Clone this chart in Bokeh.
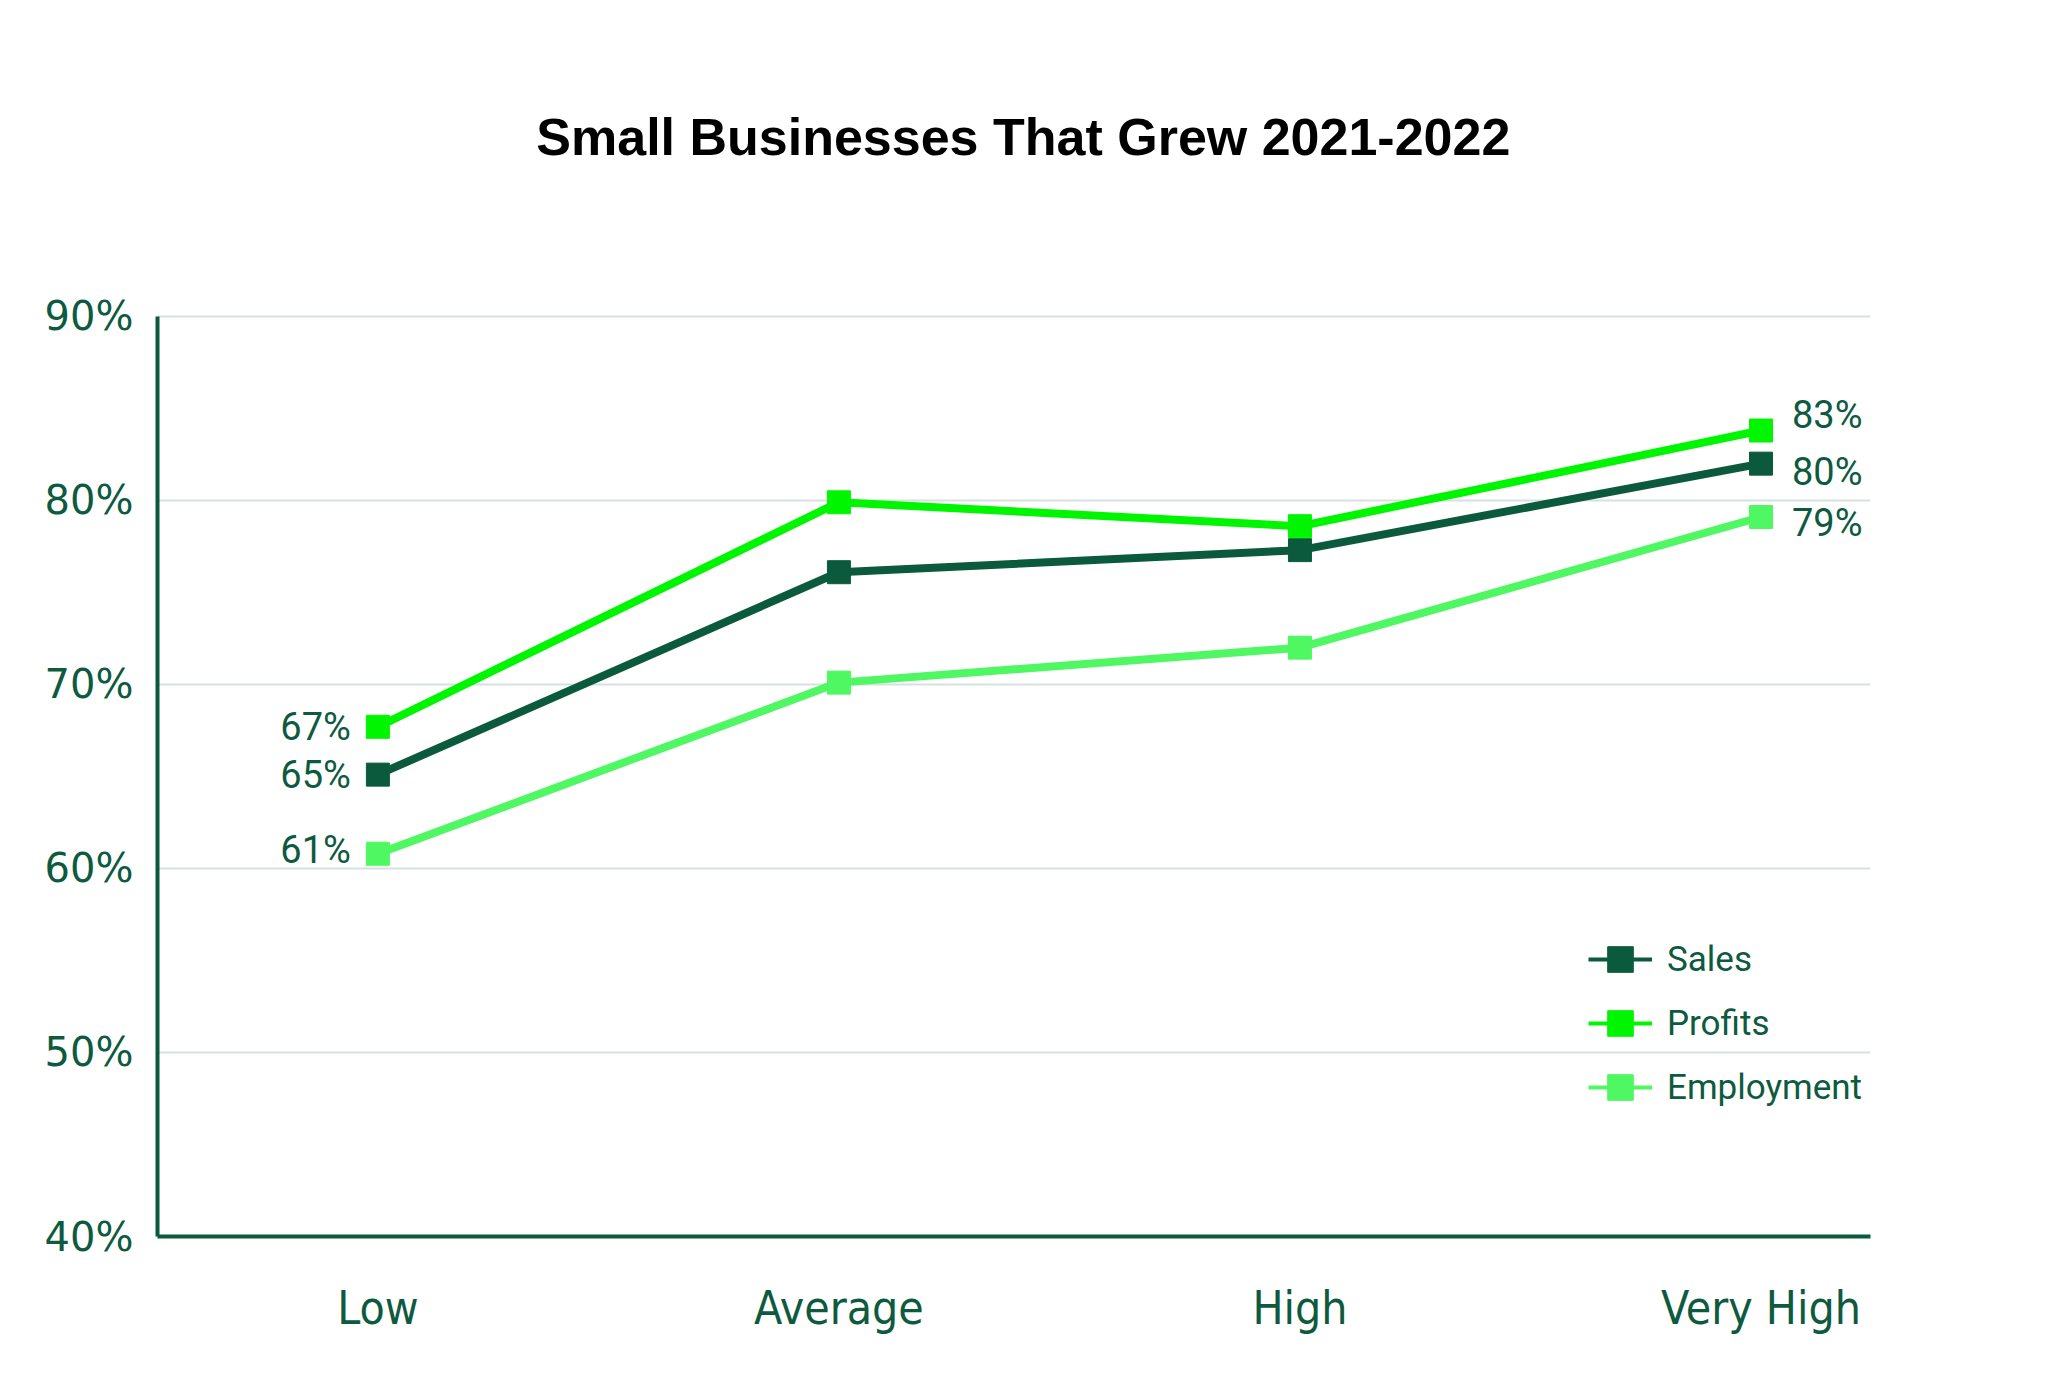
from bokeh.plotting import figure
from bokeh.models import (ColumnDataSource, Range1d, FixedTicker, Legend, LegendItem, Label)
from bokeh.core.properties import value
from bokeh.embed import file_html
from bokeh.resources import INLINE

# ---- data ----
categories = ["Low", "Average", "High", "Very High"]
sales = [65.1, 76.1, 77.3, 82.0]
profits = [67.7, 79.9, 78.6, 83.8]
employment = [60.8, 70.1, 72.0, 79.1]
series_names = ["Sales", "Profits", "Employment"]
start_labels = ["65%", "67%", "61%"]
end_labels = ["80%", "83%", "79%"]
y_ticks = [40, 50, 60, 70, 80, 90]
chart_title = "Small Businesses That Grew 2021-2022"

colors = ["#0b5a3d", "#00f600", "#4ff862"]
text_color = "#0e5a3f"
grid_color = "#d5e1df"

# frame extends above the 90% line so the title can sit inside it
p = figure(width=2048, height=1373, output_backend="svg", toolbar_location=None,
           x_range=Range1d(-0.478, 3.2375), y_range=Range1d(40, 106.30),
           min_border_left=157, min_border_right=178, min_border_top=16, min_border_bottom=137)
p.title = None
p.outline_line_color = None
p.background_fill_color = "white"
p.border_fill_color = "white"

# axes
p.xaxis.ticker = FixedTicker(ticks=list(range(len(categories))))
p.xaxis.major_label_overrides = {i: c for i, c in enumerate(categories)}
p.yaxis.ticker = FixedTicker(ticks=y_ticks)
p.yaxis.major_label_overrides = {t: f"{t}%" for t in y_ticks}
p.yaxis.bounds = (y_ticks[0], y_ticks[-1])
for ax in (p.xaxis[0], p.yaxis[0]):
    ax.axis_line_color = "#0b5a3d"
    ax.axis_line_width = 4
    ax.major_tick_line_color = None
    ax.minor_tick_line_color = None
    ax.major_label_text_color = text_color
p.xaxis.major_label_text_font = "'DejaVu Sans Condensed', Roboto"
p.xaxis.major_label_text_font_size = "46px"
p.xaxis.major_label_standoff = 38
p.yaxis.major_label_text_font = "DejaVu Sans"
p.yaxis.major_label_text_font_size = "40px"
p.yaxis.major_label_standoff = 18

p.xgrid.grid_line_color = None
p.ygrid.ticker = FixedTicker(ticks=y_ticks)
p.ygrid.grid_line_color = grid_color
p.ygrid.grid_line_width = 2

nan = float("nan")
xs = list(range(len(categories)))
all_series = [sales, profits, employment]
items = []
start_offsets = [0, 0, -4]
end_offsets = [8, -16, 6]
for name, vals, col in zip(series_names, all_series, colors):
    src = ColumnDataSource(dict(x=xs, y=vals))
    p.line("x", "y", source=src, line_color=col, line_width=8)
    p.scatter("x", "y", source=src, marker="square", size=23, fill_color=col, line_color=col)
    # legend-only renderers (thinner line, like the reference key); no visible data
    key = ColumnDataSource(dict(x=[nan], y=[nan]))
    l1 = p.line("x", "y", source=key, line_color=col, line_width=4)
    l2 = p.scatter("x", "y", source=key, marker="square", size=23, fill_color=col, line_color=col)
    items.append(LegendItem(label=name, renderers=[l1, l2]))

# data labels
lab_src = ColumnDataSource(dict(
    x=[xs[0]] * 3 + [xs[-1]] * 3,
    y=[s[0] for s in all_series] + [s[-1] for s in all_series],
    text=start_labels + end_labels,
    xo=[-27] * 3 + [31] * 3,
    yo=start_offsets + end_offsets,
    align=["right"] * 3 + ["left"] * 3,
))
p.text("x", "y", text="text", source=lab_src, x_offset="xo", y_offset="yo",
       text_align="align", text_baseline="middle", text_color=text_color,
       text_font=value("Roboto"), text_font_size="38px")

legend = Legend(items=items, location=(1431, 117), orientation="vertical",
                glyph_width=64, glyph_height=64, label_height=64, spacing=0,
                padding=0, margin=0, label_standoff=15,
                label_text_font="Roboto", label_text_font_size="35px",
                label_text_color=text_color, border_line_color=None,
                background_fill_alpha=0)
p.add_layout(legend, "center")

p.add_layout(Label(x=1.40, y=99.73, text=chart_title, text_align="center",
                   text_baseline="middle", text_font="Liberation Sans",
                   text_font_style="bold", text_font_size="52px", text_color="black"))

open("out.html", "w").write(file_html(p, INLINE))
